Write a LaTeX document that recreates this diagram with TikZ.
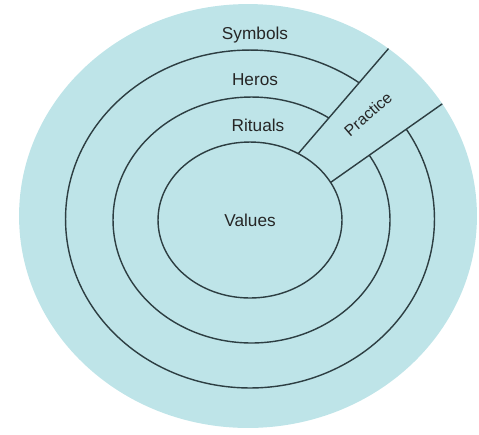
\documentclass[tikz,border=0pt]{standalone}
\usepackage{fontspec}
\setmainfont{Liberation Sans}
\usetikzlibrary{shapes.geometric,backgrounds,calc}
\definecolor{onionblue}{RGB}{190,228,232}
\definecolor{ringline}{RGB}{45,62,66}

\begin{document}
\begin{tikzpicture}[x=0.02cm, y=-0.02cm,
  layer/.style={ellipse, inner sep=0pt, outer sep=0pt, draw=ringline, line width=0.8pt},
  disc/.style={ellipse, inner sep=0pt, outer sep=0pt, fill=onionblue},
  ringtext/.style={font=\fontsize{9.8pt}{12pt}\selectfont, text=black!85},
  edge/.style={draw=ringline, line width=0.8pt}
]
\useasboundingbox (0,0) rectangle (479,434);
\node[layer, minimum width=3.68cm, minimum height=3.12cm, ringtext] (values) at (250,220) {Values};
\begin{scope}[on background layer]
\node[disc, minimum width=9.16cm, minimum height=8.48cm] (symbols) at (248,216) {};
\node[layer, minimum width=7.38cm, minimum height=6.76cm] (heros) at (250,219) {};
\node[layer, minimum width=5.54cm, minimum height=4.92cm] (rituals) at (251.5,220) {};
\coordinate (pa) at (values.54);
\coordinate (pb) at (symbols.50);
\coordinate (pc) at (symbols.30);
\coordinate (pd) at (values.25);
\fill[onionblue] ($(pa)!-0.2!(pb)$) -- (pb) -- (pc) -- ($(pd)!-0.2!(pc)$) -- cycle;
\end{scope}
\draw[edge] (pa) -- (pb);
\draw[edge] (pd) -- (pc);
\node[ringtext] (t-symbols) at (255,35) {Symbols};
\node[ringtext] (t-heros) at (255,80) {Heros};
\node[ringtext] (t-rituals) at (258,125) {Rituals};
\node[ringtext, rotate=41, font=\fontsize{9pt}{11pt}\selectfont] (t-practice) at (368,114) {Practice};
\end{tikzpicture}
\end{document}
